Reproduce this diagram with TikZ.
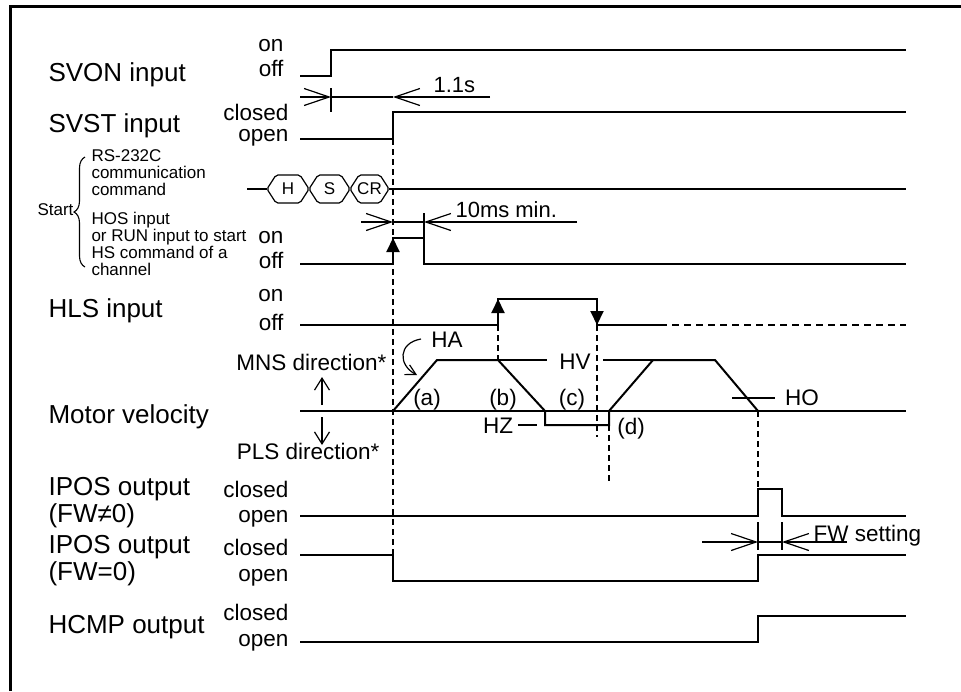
\documentclass[tikz,border=0pt]{standalone}
\usepackage{fontspec}
\setmainfont{Liberation Sans}
\usetikzlibrary{arrows.meta, decorations.pathreplacing}

\tikzset{
  wave/.style={line width=2pt},
  guideline/.style={line width=1.2pt, dash pattern=on 6pt off 4pt},
  dimline/.style={line width=1.2pt},
  barb/.style={-{Straight Barb[length=25pt, width=17pt]}},
  trig/.style={-{Triangle[length=14pt, width=13pt]}},
  lblbig/.style={font=\fontsize{26}{30}\selectfont},
  lblmid/.style={font=\fontsize{22.5}{26}\selectfont},
  lblsmall/.style={font=\fontsize{17}{19}\selectfont},
}

\begin{document}
\begin{tikzpicture}[x=1pt, y=-1pt]
    \useasboundingbox (0,0) rectangle (961,691);
    \draw[line width=3pt] (10,691) -- (10,6) -- (961,6);

    % signal names
    \node[lblbig, anchor=base west] (svon) at (45,81) {SVON input};
    \node[lblbig, anchor=base west] (svst) at (45,132) {SVST input};
    \node[lblbig, anchor=base west] (hls) at (45,317) {HLS input};
    \node[lblbig, anchor=base west] (motor) at (45,423) {Motor velocity};
    \node[lblbig, anchor=base west] (ipos1) at (45,495) {IPOS output};
    \node[lblbig, anchor=base west] (fw1) at (45,522) {(FW≠0)};
    \node[lblbig, anchor=base west] (ipos2) at (45,553) {IPOS output};
    \node[lblbig, anchor=base west] (fw2) at (45,580) {(FW=0)};
    \node[lblbig, anchor=base west] (hcmp) at (45,633) {HCMP output};

    % start conditions
    \node[lblsmall, anchor=base west] (start) at (34,215) {Start};
    \draw[line width=1.1pt, decorate, decoration={brace, amplitude=11pt}]
        (85,267) -- (85,157);
    \foreach \y/\t [count=\i] in {161/RS-232C, 178/communication, 195/command,
        224/HOS input, 241/or RUN input to start, 258/HS command of a, 275/channel}
        \node[lblsmall, anchor=base west] (cond\i) at (88,\y) {\t};

    % level labels
    \foreach \y/\t in {51/on, 76/off, 243/on, 268/off, 301/on, 330/off}
        \node[lblmid, anchor=base east] (lv\y) at (287,\y) {\t};
    \foreach \y/\t in {120/closed, 141/open, 497/closed, 522/open,
        555/closed, 581/open, 620/closed, 646/open}
        \node[lblmid, anchor=base east] (lv\y) at (292,\y) {\t};

    % SVON and SVST
    \draw[wave] (300,76) -- (331,76) -- (331,50) -- (906,50);
    \draw[wave] (300,139) -- (393,139) -- (393,112) -- (906,112);
    \draw[dimline] (331,88) -- (331,112);
    \draw[dimline] (331,97) -- (393,97);
    \draw[dimline, barb] (300,97) -- (331,97);
    \draw[dimline, barb] (490,97) -- (393,97);
    \node[lblmid, anchor=base west, font=\fontsize{22}{24}\selectfont] (t11) at (430,92) {1.1s};

    % RS-232C command
    \draw[wave] (247,189) -- (267,189);
    \draw[wave] (389,189) -- (906,189);
    \foreach \a/\b/\t in {267/309/H, 309/350/S, 350/389/CR} {
        \draw[dimline, rounded corners=2pt] (\a,189) -- (\a+9,175) -- (\b-9,175)
            -- (\b,189) -- (\b-9,203) -- (\a+9,203) -- cycle;
        \node[lblsmall] (cmd\t) at ({(\a+\b)/2},189) {\t};
    }

    % HOS / RUN input
    \draw[wave] (300,264) -- (393,264) -- (393,238) -- (424,238) -- (424,264) -- (906,264);
    \draw[wave, trig] (393,264) -- (393,238);
    \draw[dimline] (424,213) -- (424,238);
    \draw[dimline] (393,222) -- (424,222);
    \draw[dimline, barb] (361,222) -- (393,222);
    \draw[dimline, barb] (577,222) -- (424,222);
    \node[lblmid, anchor=base west, font=\fontsize{22}{24}\selectfont] (t10) at (452,217) {10ms min.};

    % HLS input
    \draw[wave] (300,325) -- (498,325) -- (498,299) -- (597,299) -- (597,325) -- (660,325);
    \draw[wave, dash pattern=on 7pt off 5pt] (660,325) -- (906,325);
    \draw[wave, trig] (498,325) -- (498,299);
    \draw[wave, trig] (597,299) -- (597,325);

    % Motor velocity
    \draw[wave] (300,411) -- (906,411);
    \draw[wave] (393,411) -- (437,360) -- (498,360) -- (545,411) -- (545,425)
        -- (609,425) -- (609,411) -- (653,360) -- (715,360) -- (758,411);
    \node[lblmid] (hv) at (575,362) {HV};
    \draw[dimline] (498,360) -- (547,360) (603,360) -- (653,360);
    \node[lblmid] (ha) at (447,340) {HA};
    \draw[dimline, -{Straight Barb[length=10pt, width=11pt]}]
        (421,339) .. controls (398,343) and (398,365) .. (417,375);
    \node[lblmid] (la) at (427,400) {(a)};
    \node[lblmid] (lb) at (503,400) {(b)};
    \node[lblmid] (lc) at (572,400) {(c)};
    \node[lblmid] (ld) at (631,429) {(d)};
    \node[lblmid] (hz) at (498,426) {HZ};
    \draw[dimline] (518,425) -- (537,425);
    \node[lblmid] (ho) at (802,398) {HO};
    \draw[dimline] (732,398) -- (775,398);
    \node[lblmid, anchor=east] (mns) at (390,362) {MNS direction*};
    \node[lblmid, anchor=east] (pls) at (383,451) {PLS direction*};
    \draw[dimline, -{Straight Barb[length=12pt, width=15pt]}] (322,405) -- (322,377);
    \draw[dimline, -{Straight Barb[length=12pt, width=15pt]}] (322,417) -- (322,445);

    % guide lines
    \draw[guideline] (393,139) -- (393,555);
    \draw[guideline] (498,325) -- (498,360);
    \draw[guideline] (597,325) -- (597,437);
    \draw[guideline] (609,425) -- (609,483);
    \draw[guideline] (758,411) -- (758,489);

    % outputs
    \draw[wave] (300,516) -- (758,516) -- (758,489) -- (782,489) -- (782,516) -- (906,516);
    \draw[wave] (300,555) -- (393,555) -- (393,581) -- (758,581) -- (758,555) -- (906,555);
    \draw[wave] (300,642) -- (758,642) -- (758,616) -- (906,616);
    \draw[dimline] (758,522) -- (758,550) (782,522) -- (782,550);
    \draw[dimline] (758,542) -- (782,542);
    \draw[dimline, barb] (702,542) -- (758,542);
    \draw[dimline, barb] (847,542) -- (782,542);
    \node[lblmid, anchor=base west] (fws) at (810,541) {FW setting};
\end{tikzpicture}
\end{document}
